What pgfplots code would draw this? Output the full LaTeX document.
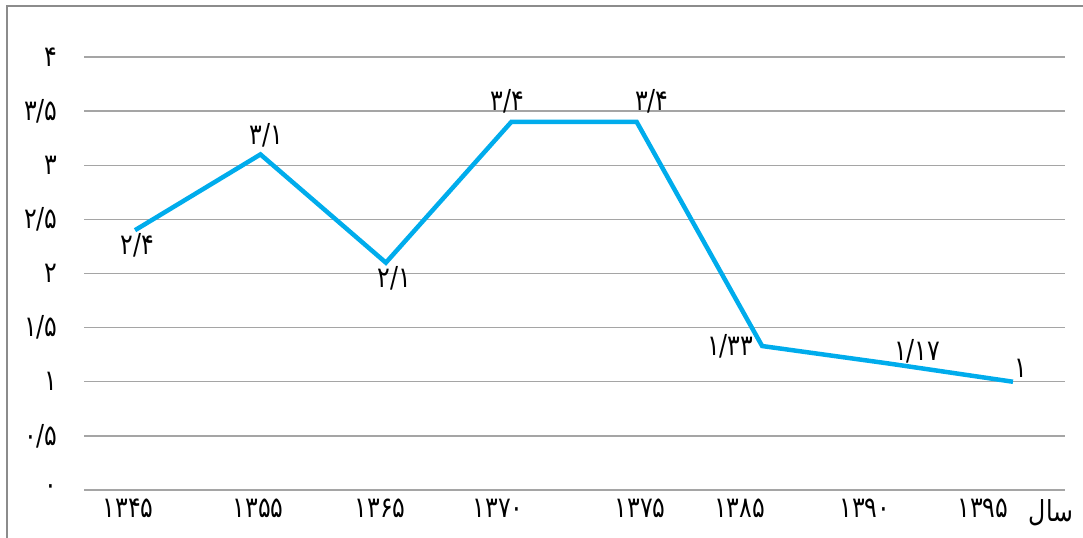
\documentclass[border=0pt]{standalone}
\usepackage{fontspec}
\usepackage{pgfplots}
\pgfplotsset{compat=1.18}
\TeXXeTstate=1
\newfontfamily\fa[Script=Arabic, FakeStretch=0.82]{DejaVu Sans}
\definecolor{lineblue}{RGB}{0,172,236}
\definecolor{gridgray}{RGB}{165,165,165}
\definecolor{bordergray}{RGB}{140,140,140}
\newcommand{\lbl}{\fa\fontsize{29}{32}\selectfont}
\begin{document}
\begin{tikzpicture}
\useasboundingbox (0,0) rectangle (1083bp,538bp);
\draw[bordergray, line width=1.3bp] (7bp,0) -- (7bp,532bp) -- (1083bp,532bp);
\begin{axis}[
  at={(84bp,48bp)}, anchor=south west,
  scale only axis, width=981bp, height=433bp,
  xmin=-0.407, xmax=7.415, ymin=0, ymax=4,
  axis line style={draw=none},
  tick style={draw=none},
  ymajorgrids, grid style={gridgray, line width=1.4bp},
  ytick={0,0.5,1,1.5,2,2.5,3,3.5,4},
  yticklabels={۰,۰/۵,۱,۱/۵,۲,۲/۵,۳,۳/۵,۴},
  xtick={-0.056,0.981,1.954,2.895,4.027,4.82,5.82,6.76},
  xticklabels={۱۳۴۵,۱۳۵۵,۱۳۶۵,۱۳۷۰,۱۳۷۵,۱۳۸۵,۱۳۹۰,۱۳۹۵},
  xticklabel style={font=\lbl, anchor=center, yshift=-18bp},
  yticklabel style={font=\lbl, anchor=east, xshift=-23bp},
  clip=false,
]
\addplot[lineblue, line width=4.5bp, mark=none] coordinates {
  (0,2.4) (1,3.1) (2,2.1) (3,3.4) (4,3.4) (5,1.33) (6,1.17) (7,1)
};
\node[font=\lbl] at (axis cs:0.02,2.26) {۲/۴};
\node[font=\lbl] at (axis cs:1.045,3.28) {۳/۱};
\node[font=\lbl] at (axis cs:2.07,1.96) {۲/۱};
\node[font=\lbl] at (axis cs:2.97,3.59) {۳/۴};
\node[font=\lbl] at (axis cs:4.12,3.59) {۳/۴};
\node[font=\lbl] at (axis cs:4.745,1.33) {۱/۳۳};
\node[font=\lbl] at (axis cs:6.236,1.285) {۱/۱۷};
\node[font=\lbl] at (axis cs:7.06,1.125) {۱};
\end{axis}
\node[font=\lbl] at (1051bp,25bp) {\beginR سال\endR};
\end{tikzpicture}
\end{document}
